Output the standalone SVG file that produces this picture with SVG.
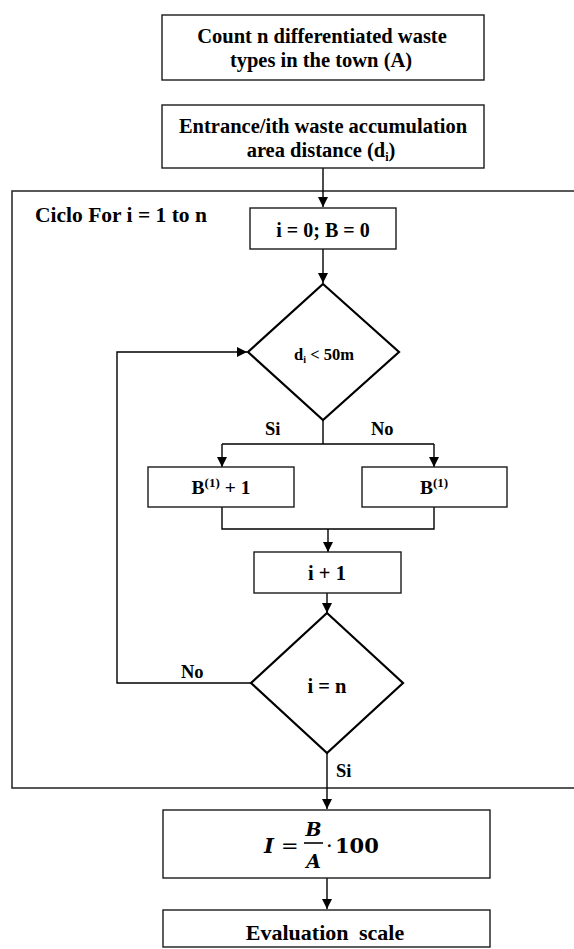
<svg xmlns="http://www.w3.org/2000/svg" width="574" height="949" viewBox="0 0 574 949">
  <style>
    .box { fill: #ffffff; stroke: #1a1a1a; stroke-width: 1.4; }
    .dia { fill: #ffffff; stroke: #000000; stroke-width: 2.2; stroke-linejoin: miter; }
    .ln { fill: none; stroke: #000000; stroke-width: 1.4; }
    .frame { fill: none; stroke: #222222; stroke-width: 1.5; }
    .t { font-family: "Liberation Serif", "Times New Roman", serif; font-weight: bold; fill: #000000; }
    .m { font-family: "DejaVu Serif", serif; fill: #000000; }
  </style>
  <defs>
    <marker id="arr" viewBox="0 0 10 10" refX="10" refY="5" markerWidth="10" markerHeight="10" markerUnits="userSpaceOnUse" orient="auto">
      <path d="M0,0 L10,5 L0,10 Z" fill="#000000"/>
    </marker>
  </defs>

  <rect width="574" height="949" fill="#ffffff"/>

  <!-- loop frame, open on the right -->
  <g id="loop-frame">
    <path class="frame" d="M574,191 H12 V788 H574"/>
    <text class="t" x="35" y="222" font-size="21.5">Ciclo For i = 1 to n</text>
  </g>

  <!-- connectors -->
  <g id="connectors">
    <line class="ln" x1="323" y1="168" x2="323" y2="207" marker-end="url(#arr)"/>
    <line class="ln" x1="323" y1="249" x2="323" y2="283" marker-end="url(#arr)"/>
    <path class="ln" d="M323,420 V444 M222,444 H434"/>
    <line class="ln" x1="222" y1="444" x2="222" y2="467" marker-end="url(#arr)"/>
    <line class="ln" x1="434" y1="444" x2="434" y2="467" marker-end="url(#arr)"/>
    <path class="ln" d="M222,507 V529 H434 V507"/>
    <line class="ln" x1="328" y1="529" x2="328" y2="552" marker-end="url(#arr)"/>
    <line class="ln" x1="327" y1="593" x2="327" y2="613" marker-end="url(#arr)"/>
    <path class="ln" d="M251,683 H117 V352 H247" marker-end="url(#arr)"/>
    <line class="ln" x1="327" y1="753" x2="327" y2="809" marker-end="url(#arr)"/>
    <line class="ln" x1="327" y1="878" x2="327" y2="909" marker-end="url(#arr)"/>
    <text class="t" x="265" y="435" font-size="18.5">Si</text>
    <text class="t" x="371" y="435" font-size="18.5">No</text>
    <text class="t" x="181" y="678" font-size="18.5">No</text>
    <text class="t" x="336" y="777" font-size="18.5">Si</text>
  </g>

  <g id="count-types">
    <rect class="box" x="162" y="15" width="322" height="65"/>
    <text class="t" x="322" y="43" font-size="20.5" text-anchor="middle">Count n differentiated waste</text>
    <text class="t" x="321" y="67" font-size="20.5" text-anchor="middle">types in the town (A)</text>
  </g>

  <g id="distance">
    <rect class="box" x="162" y="105" width="322" height="63"/>
    <text class="t" x="323" y="133" font-size="20.5" text-anchor="middle">Entrance/ith waste accumulation</text>
    <text class="t" x="321" y="157" font-size="20.5" text-anchor="middle">area distance (d<tspan font-size="12" dy="4">i</tspan><tspan dy="-4">)</tspan></text>
  </g>

  <g id="init">
    <rect class="box" x="250" y="208" width="146" height="41"/>
    <text class="t" x="323" y="237" font-size="20" text-anchor="middle">i = 0; B = 0</text>
  </g>

  <g id="check-distance">
    <polygon class="dia" points="323,284 399,352 323,420 248,352"/>
    <text class="t" x="324" y="360" font-size="16.5" text-anchor="middle">d<tspan font-size="10" dy="3">i</tspan><tspan dy="-3"> &lt; 50m</tspan></text>
  </g>

  <g id="increment-b">
    <rect class="box" x="148" y="467" width="146" height="40"/>
    <text class="t" x="221" y="494" font-size="19.5" text-anchor="middle">B<tspan font-size="13" dy="-7">(1)</tspan><tspan dy="7"> + 1</tspan></text>
  </g>

  <g id="keep-b">
    <rect class="box" x="362" y="467" width="145" height="40"/>
    <text class="t" x="434" y="494" font-size="19.5" text-anchor="middle">B<tspan font-size="13" dy="-7">(1)</tspan></text>
  </g>

  <g id="next-i">
    <rect class="box" x="254" y="552" width="147" height="41"/>
    <text class="t" x="327" y="580" font-size="20.5" text-anchor="middle">i + 1</text>
  </g>

  <g id="check-end">
    <polygon class="dia" points="327,613 403,683 327,753 251,683"/>
    <text class="t" x="327" y="693" font-size="20.5" text-anchor="middle">i = n</text>
  </g>

  <g id="index">
    <rect class="box" x="163" y="810" width="327" height="68"/>
    <text class="m" x="264" y="853" font-size="21" font-weight="bold" font-style="italic">I</text>
    <text class="m" x="281" y="853" font-size="21">=</text>
    <line x1="304" y1="843" x2="323" y2="843" stroke="#000" stroke-width="1.6"/>
    <text class="m" x="313.5" y="836" font-size="19" font-weight="bold" font-style="italic" text-anchor="middle">B</text>
    <text class="m" x="313.5" y="868" font-size="19" font-weight="bold" font-style="italic" text-anchor="middle">A</text>
    <text class="m" x="326" y="853" font-size="21">·</text>
    <text class="m" x="335" y="853" font-size="21" font-weight="bold">100</text>
  </g>

  <g id="evaluation">
    <rect class="box" x="163" y="910" width="327" height="37"/>
    <text class="t" x="325" y="940" font-size="22" text-anchor="middle" word-spacing="5">Evaluation scale</text>
  </g>
</svg>
